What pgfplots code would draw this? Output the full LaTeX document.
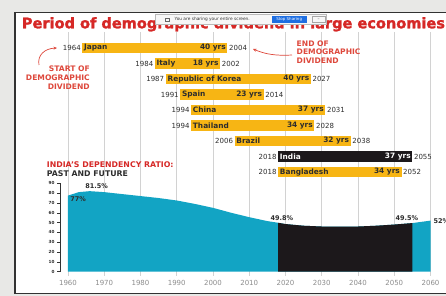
\documentclass[border=0pt]{standalone}
\usepackage{graphicx}
\usepackage{pgfplots}
\pgfplotsset{compat=1.18}
\usetikzlibrary{arrows.meta}
\usepackage{fontspec}
\setmainfont{DejaVu Sans}
\newfontfamily\titlefont{DejaVu Sans}[BoldFeatures={FakeBold=1.6}]

\definecolor{barorange}{RGB}{247,181,20}
\definecolor{cyanarea}{RGB}{18,164,196}
\definecolor{darkarea}{RGB}{28,24,27}
\definecolor{titlered}{RGB}{214,40,38}
\definecolor{annred}{RGB}{222,72,60}
\definecolor{gridgrey}{RGB}{210,210,210}
\definecolor{txtdark}{RGB}{45,45,45}
\definecolor{tickgrey}{RGB}{140,140,140}
\definecolor{bggrey}{RGB}{232,232,230}
\definecolor{framedark}{RGB}{50,50,50}
\definecolor{zoomblue}{RGB}{30,110,225}

\newcommand{\yrfont}{\fontsize{7}{7}\selectfont}
\newcommand{\namefont}{\fontsize{7.4}{7.4}\selectfont\bfseries}
\newcommand{\dbar}[7]{%
  \addplot[draw=#6, line width=10.5pt, forget plot] coordinates {(#1,#3) (#2,#3)};
  \node[anchor=east, font=\yrfont, text=txtdark, inner sep=1.5pt] at (axis cs:#1,#3) {#1};
  \node[anchor=west, font=\yrfont, text=txtdark, inner sep=1.5pt] at (axis cs:#2,#3) {#2};
  \node[anchor=west, font=\namefont, text=#7, inner sep=1.5pt] at (axis cs:#1,#3) {#4};
  \node[anchor=east, font=\namefont, text=#7, inner sep=1.5pt] at (axis cs:#2,#3) {#5};
}

\begin{document}
\begin{tikzpicture}[x=1pt,y=1pt]
\clip (0,0) rectangle (446,296);
\fill[bggrey] (0,0) rectangle (446,296);
\fill[white] (15,3) rectangle (446,283.3);
\draw[framedark, line width=1.3pt] (446,283.3) -- (15,283.3) -- (15,2.7) -- (446,2.7);

% grid
\begin{axis}[at={(60pt,20pt)}, anchor=south west, scale only axis,
  width=370.5pt, height=244pt, xmin=1957.8, xmax=2060, ymin=0, ymax=1,
  xtick={1960,1970,...,2060}, ytick=\empty, xticklabels={},
  major tick length=0pt, xmajorgrids,
  grid style={gridgrey, line width=0.8pt}, axis line style={draw=none}]
\addplot[draw=none] coordinates {(1960,0)};
\end{axis}

% area chart
\begin{axis}[at={(60pt,24.3pt)}, anchor=south west, scale only axis,
  width=370.5pt, height=88.4pt, xmin=1957.8, xmax=2060, ymin=0, ymax=90,
  clip=false, axis x line*=bottom, axis y line*=left,
  x axis line style={draw=none}, y axis line style={framedark, line width=0.5pt},
  xtick={1960,1970,...,2060}, ytick={0,10,...,90},
  tick align=outside, major tick length=3pt,
  x tick style={gridgrey, line width=0.7pt}, y tick style={framedark, line width=0.4pt},
  xticklabel style={font=\fontsize{7}{7}\selectfont, text=tickgrey, yshift=-2pt, /pgf/number format/1000 sep={}},
  yticklabel style={font=\fontsize{4.2}{4.2}\selectfont\bfseries, text=txtdark, xshift=1pt},
  /pgf/number format/assume math mode=true]
\addplot[fill=cyanarea, draw=none] coordinates {
 (1960,77.5) (1963,81) (1966,82) (1970,81) (1975,79) (1980,77) (1985,75)
 (1990,72.5) (1995,69) (2000,65) (2005,60) (2010,55.5) (2015,51.5) (2018,49.8)
 (2020,48.5) (2025,46.8) (2030,46) (2035,45.8) (2040,46) (2045,46.8) (2050,48)
 (2055,49.5) (2060,52)} \closedcycle;
\addplot[fill=darkarea, draw=none] coordinates {
 (2018,49.8) (2020,48.5) (2025,46.8) (2030,46) (2035,45.8) (2040,46) (2045,46.8)
 (2050,48) (2055,49.5)} \closedcycle;
\node[font=\fontsize{6.5}{6.5}\selectfont\bfseries, text=txtdark] at (axis cs:1967.9,87.3) {81.5\%};
\node[font=\fontsize{6.5}{6.5}\selectfont\bfseries, text=txtdark] at (axis cs:1962.8,74) {77\%};
\node[font=\fontsize{6.5}{6.5}\selectfont\bfseries, text=txtdark] at (axis cs:2019,54.7) {49.8\%};
\node[font=\fontsize{6.5}{6.5}\selectfont\bfseries, text=txtdark] at (axis cs:2053.5,54.7) {49.5\%};
\node[anchor=west, inner sep=0pt, font=\fontsize{6.5}{6.5}\selectfont\bfseries, text=txtdark] at (axis cs:2060.8,51.6) {52\%};
\end{axis}

% bars
\begin{axis}[at={(60pt,108.5pt)}, anchor=south west, scale only axis,
  width=370.5pt, height=155pt, xmin=1957.8, xmax=2060, ymin=0, ymax=10,
  hide axis, clip=false]
\dbar{1964}{2004}{9}{Japan}{40 yrs}{barorange}{txtdark}
\dbar{1984}{2002}{8}{Italy}{18 yrs}{barorange}{txtdark}
\dbar{1987}{2027}{7}{Republic of Korea}{40 yrs}{barorange}{txtdark}
\dbar{1991}{2014}{6}{Spain}{23 yrs}{barorange}{txtdark}
\dbar{1994}{2031}{5}{China}{37 yrs}{barorange}{txtdark}
\dbar{1994}{2028}{4}{Thailand}{34 yrs}{barorange}{txtdark}
\dbar{2006}{2038}{3}{Brazil}{32 yrs}{barorange}{txtdark}
\dbar{2018}{2055}{2}{India}{37 yrs}{darkarea}{white}
\dbar{2018}{2052}{1}{Bangladesh}{34 yrs}{barorange}{txtdark}
\end{axis}

% subtitle
\node[anchor=west, inner sep=0, font=\fontsize{7.8}{7.8}\selectfont\bfseries, text=titlered] at (46.7,131) {INDIA'S DEPENDENCY RATIO:};
\node[anchor=west, inner sep=0, font=\fontsize{7.8}{7.8}\selectfont\bfseries, text=txtdark] at (46.7,122.5) {PAST AND FUTURE};

% annotations
\begin{scope}[font=\fontsize{7.6}{7.6}\selectfont\bfseries, text=annred, inner sep=0]
\node[anchor=east] at (90,227) {START OF};
\node[anchor=east] at (90,218.3) {DEMOGRAPHIC};
\node[anchor=east] at (90,209.5) {DIVIDEND};
\node[anchor=west] at (296.5,252.5) {END OF};
\node[anchor=west] at (296.5,244) {DEMOGRAPHIC};
\node[anchor=west] at (296.5,235.5) {DIVIDEND};
\end{scope}
\draw[annred, line width=0.7pt, -{Stealth[length=3.5pt,width=3pt]}] (39,231) .. controls (37,241) and (45,247.5) .. (57,248);
\draw[annred, line width=0.7pt, -{Stealth[length=3.5pt,width=3pt]}] (292,241) .. controls (275,240) and (265,242) .. (253,247);

% title
\node[anchor=base west, inner sep=0, text=titlered] at (21.7,267.7) {\resizebox{423pt}{!}{\titlefont\bfseries Period of demographic dividend in large economies}};

% screen-sharing bar
\fill[white!94!gray, draw=gray!55, line width=0.4pt] (155,271.8) rectangle (326,281.5);
\draw[gray!80!black, line width=0.4pt] (165,274.8) rectangle (169.5,278.2);
\node[anchor=west, inner sep=0, font=\fontsize{4.3}{4.3}\selectfont, text=black!80] at (174.5,276.6) {You are sharing your entire screen.};
\fill[zoomblue] (272,273.2) rectangle (306.5,279.9);
\node[inner sep=0, font=\fontsize{4}{4}\selectfont, text=white] at (289.2,276.6) {Stop Sharing};
\draw[gray!70, line width=0.4pt] (312,273.5) rectangle (325,279.6);
\node[inner sep=0, font=\fontsize{4}{4}\selectfont, text=black!70] at (318.5,276.6) {--};
\end{tikzpicture}
\end{document}
